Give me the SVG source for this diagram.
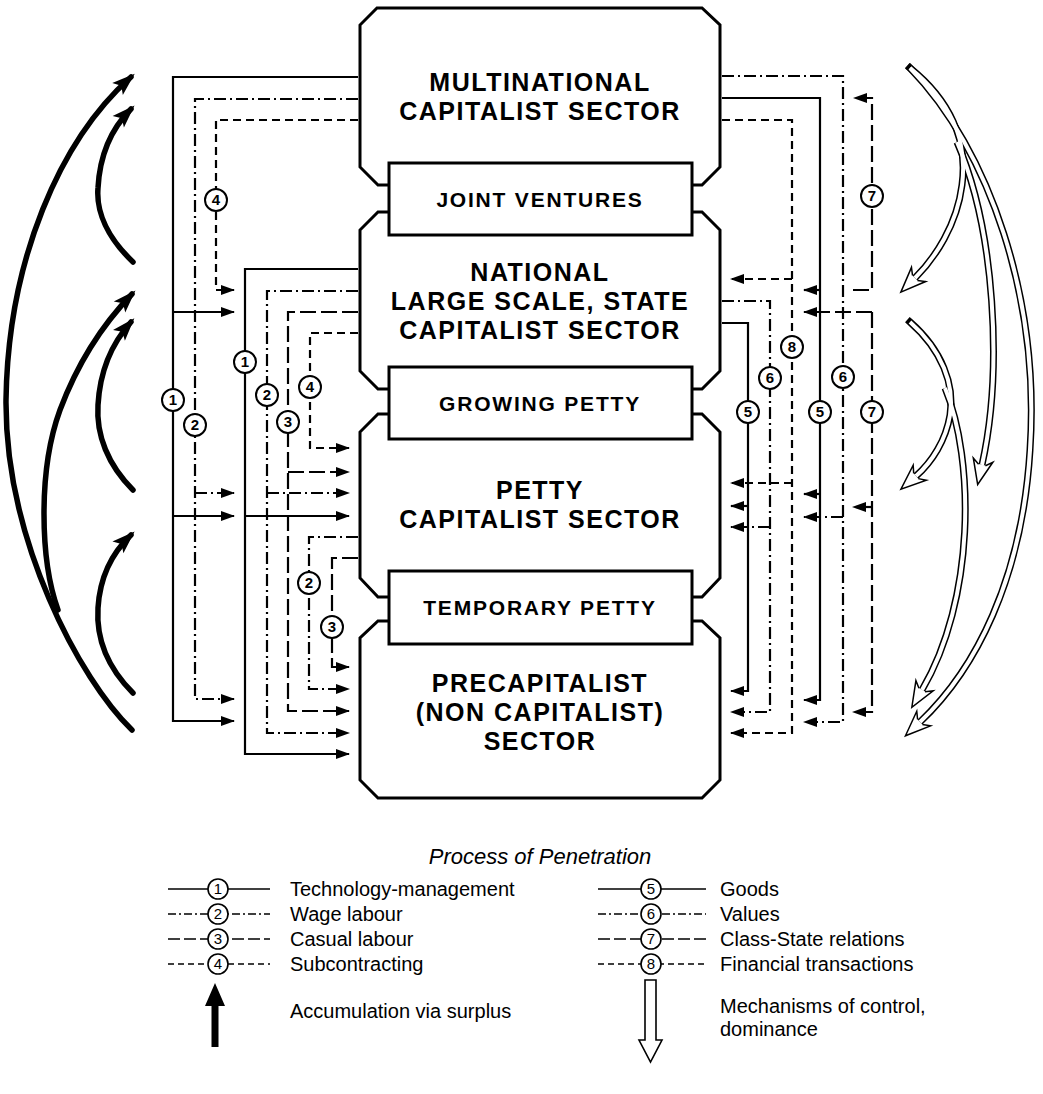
<svg xmlns="http://www.w3.org/2000/svg" width="1043" height="1094" viewBox="0 0 1043 1094">
<defs>
<style>
.box{fill:#fff;stroke:#000;stroke-width:3}
.lbl{font-family:"Liberation Sans",Arial,sans-serif;font-weight:bold;font-size:25px;letter-spacing:1.5px;text-anchor:middle}
.sub{font-size:21px;letter-spacing:1.8px}
.ln{fill:none;stroke:#000;stroke-width:2.2}
.dd{stroke-dasharray:12 4 2 4}
.ld{stroke-dasharray:16 5}
.sd{stroke-dasharray:8 5}
.ar{marker-end:url(#ah)}
.c circle{fill:#fff;stroke:#000;stroke-width:2}
.c text{font-family:"Liberation Sans",Arial,sans-serif;font-weight:bold;font-size:15px;text-anchor:middle}
.bk{fill:none;stroke:#000;stroke-width:5.5;stroke-linecap:round;marker-end:url(#th)}
.ho{fill:none;stroke:#000;stroke-width:7;stroke-linecap:square}
.hb{fill:none;stroke:#000;stroke-width:7}
.hi{fill:none;stroke:#fff;stroke-width:4;marker-end:url(#hh)}
.lg{font-family:"Liberation Sans",Arial,sans-serif;font-size:20px}
.ttl{font-family:"Liberation Sans",Arial,sans-serif;font-size:22px;font-style:italic;text-anchor:middle}
.lgl{fill:none;stroke:#000;stroke-width:1.6}
.lc circle{fill:#fff;stroke:#000;stroke-width:1.6}
.lc text{font-family:"Liberation Sans",Arial,sans-serif;font-size:15px;text-anchor:middle}
</style>
<marker id="ah" markerUnits="userSpaceOnUse" viewBox="-14 -6 16 12" markerWidth="16" markerHeight="12" refX="0" refY="0" orient="auto"><path d="M-13,-5 L1,0 L-13,5 Z" fill="#000"/></marker>
<marker id="th" markerUnits="userSpaceOnUse" viewBox="-20 -10 26 20" markerWidth="26" markerHeight="20" refX="0" refY="0" orient="auto"><path d="M-18,-8 L5,0 L-18,8 L-13,0 Z" fill="#000"/></marker>
<marker id="hh" markerUnits="userSpaceOnUse" viewBox="-8 -13 32 26" markerWidth="32" markerHeight="26" refX="0" refY="0" orient="auto"><polyline points="0,-3.5 -5,-10 20,0 -5,10 0,3.5" fill="#fff" stroke="#000" stroke-width="1.5" stroke-linejoin="miter"/></marker>
</defs>
<rect width="1043" height="1094" fill="#fff"/>

<g id="connectors">
<path class="ln ar" d="M358,77 H173 V721 H234"/>
<path class="ln ar" d="M173,312 H234"/>
<path class="ln ar" d="M173,516 H234"/>
<path class="ln dd ar" d="M358,99 H195 V699 H234"/>
<path class="ln dd ar" d="M195,493 H234"/>
<path class="ln sd ar" d="M358,120 H216 V290 H234"/>
<path class="ln ar" d="M358,269 H245 V754 H349"/>
<path class="ln ar" d="M245,516 H349"/>
<path class="ln dd ar" d="M358,291 H267 V733 H349"/>
<path class="ln dd ar" d="M267,493 H349"/>
<path class="ln ld ar" d="M358,312 H288 V711 H349"/>
<path class="ln ld ar" d="M288,472 H349"/>
<path class="ln sd ar" d="M358,333 H310 V448 H349"/>
<path class="ln dd ar" d="M358,537 H309 V689 H349"/>
<path class="ln ld ar" d="M358,558 H332 V667 H349"/>
<path class="ln ar" d="M722,98 H820 V700 H804"/>
<path class="ln ar" d="M820,290 H804"/>
<path class="ln ar" d="M820,494 H804"/>
<path class="ln dd ar" d="M722,76 H843 V722 H804"/>
<path class="ln dd ar" d="M843,517 H804"/>
<path class="ln sd ar" d="M722,120 H792 V733 H731"/>
<path class="ln sd ar" d="M792,279 H731"/>
<path class="ln sd ar" d="M792,483 H731"/>
<path class="ln ld ar" d="M853,290 H872 V98 H854"/>
<path class="ln ld ar" d="M872,312 H804"/>
<path class="ln ld ar" d="M872,312 V712 H853"/>
<path class="ln ld ar" d="M872,507 H853"/>
<path class="ln ar" d="M722,323 H748 V691 H731"/>
<path class="ln ar" d="M748,506 H731"/>
<path class="ln dd ar" d="M722,301 H770 V712 H731"/>
<path class="ln dd ar" d="M770,527 H731"/>
<g class="c" transform="translate(173,400)"><circle r="11"/><text y="5">1</text></g>
<g class="c" transform="translate(195,425)"><circle r="11"/><text y="5">2</text></g>
<g class="c" transform="translate(216,200)"><circle r="11"/><text y="5">4</text></g>
<g class="c" transform="translate(245,362)"><circle r="11"/><text y="5">1</text></g>
<g class="c" transform="translate(267,395)"><circle r="11"/><text y="5">2</text></g>
<g class="c" transform="translate(288,422)"><circle r="11"/><text y="5">3</text></g>
<g class="c" transform="translate(310,387)"><circle r="11"/><text y="5">4</text></g>
<g class="c" transform="translate(309,583)"><circle r="11"/><text y="5">2</text></g>
<g class="c" transform="translate(332,627)"><circle r="11"/><text y="5">3</text></g>
<g class="c" transform="translate(872,196)"><circle r="11"/><text y="5">7</text></g>
<g class="c" transform="translate(792,347)"><circle r="11"/><text y="5">8</text></g>
<g class="c" transform="translate(770,378)"><circle r="11"/><text y="5">6</text></g>
<g class="c" transform="translate(748,412)"><circle r="11"/><text y="5">5</text></g>
<g class="c" transform="translate(820,412)"><circle r="11"/><text y="5">5</text></g>
<g class="c" transform="translate(843,377)"><circle r="11"/><text y="5">6</text></g>
<g class="c" transform="translate(872,412)"><circle r="11"/><text y="5">7</text></g>
</g>

<g id="node-multinational">
<path class="box" d="M377,8 H702 L720,25 V167 L702,185 H378 L360,167 V25 Z"/>
<text class="lbl" x="540" y="91">MULTINATIONAL</text>
<text class="lbl" x="540" y="120">CAPITALIST SECTOR</text>
</g>
<g id="node-national">
<path class="box" d="M378,212 H702 L720,230 V371 L702,389 H378 L360,371 V230 Z"/>
<text class="lbl" x="540" y="281">NATIONAL</text>
<text class="lbl" x="540" y="310">LARGE SCALE, STATE</text>
<text class="lbl" x="540" y="339">CAPITALIST SECTOR</text>
</g>
<g id="node-joint-ventures">
<rect class="box" x="389" y="163" width="303" height="72"/>
<text class="lbl sub" x="540" y="207">JOINT VENTURES</text>
</g>
<g id="node-petty">
<path class="box" d="M378,414 H702 L720,432 V578 L702,597 H378 L360,578 V432 Z"/>
<text class="lbl" x="540" y="499">PETTY</text>
<text class="lbl" x="540" y="528">CAPITALIST SECTOR</text>
</g>
<g id="node-growing-petty">
<rect class="box" x="389" y="367" width="303" height="72"/>
<text class="lbl sub" x="540" y="411">GROWING PETTY</text>
</g>
<g id="node-precapitalist">
<path class="box" d="M378,621 H702 L720,638 V780 L702,798 H378 L360,780 V638 Z"/>
<text class="lbl" x="540" y="692">PRECAPITALIST</text>
<text class="lbl" x="540" y="721">(NON CAPITALIST)</text>
<text class="lbl" x="540" y="750">SECTOR</text>
</g>
<g id="node-temporary-petty">
<rect class="box" x="389" y="571" width="303" height="73"/>
<text class="lbl sub" x="540" y="615">TEMPORARY PETTY</text>
</g>

<g id="accumulation-arrows">
<path class="bk" d="M132,730 C80,680 5,540 6,400 C8,260 60,140 131,77"/>
<path class="bk" d="M133,262 C108,238 96,212 98,188 C100,150 115,125 131,109"/>
<path class="bk" d="M58,610 C40,560 38,470 60,410 C78,362 105,322 132,294"/>
<path class="bk" d="M133,490 C108,465 96,435 98,405 C100,370 113,342 131,322"/>
<path class="bk" d="M133,693 C108,668 96,640 98,608 C100,575 113,552 131,535"/>
</g>

<g id="control-arrows">
<path class="ho" d="M910,68 C950,100 968,140 962,185 C957,225 935,258 915,278"/>
<path class="ho" d="M910,68 C990,150 1040,300 1030,450 C1022,580 975,670 920,722"/>
<path class="hb" d="M957,142 C995,230 1003,370 982,465"/>
<path class="ho" d="M910,322 C942,350 955,385 950,415 C946,440 932,462 916,476"/>
<path class="hb" d="M945,388 C975,460 975,600 922,690"/>
<path class="hi" d="M910,68 C950,100 968,140 962,185 C957,225 935,258 915,278"/>
<path class="hi" d="M910,68 C990,150 1040,300 1030,450 C1022,580 975,670 920,722"/>
<path class="hi" d="M957,142 C995,230 1003,370 982,465"/>
<path class="hi" d="M910,322 C942,350 955,385 950,415 C946,440 932,462 916,476"/>
<path class="hi" d="M945,388 C975,460 975,600 922,690"/>
</g>

<g id="legend">
<text class="ttl" x="540" y="864">Process of Penetration</text>
<line class="lgl" x1="168" y1="889" x2="270" y2="889"/>
<line class="lgl" x1="168" y1="914" x2="270" y2="914" stroke-dasharray="8 3 2 3"/>
<line class="lgl" x1="168" y1="939" x2="270" y2="939" stroke-dasharray="12 4"/>
<line class="lgl" x1="168" y1="964" x2="270" y2="964" stroke-dasharray="6 4"/>
<g class="lc" transform="translate(218,889)"><circle r="10"/><text y="5">1</text></g>
<g class="lc" transform="translate(218,914)"><circle r="10"/><text y="5">2</text></g>
<g class="lc" transform="translate(218,939)"><circle r="10"/><text y="5">3</text></g>
<g class="lc" transform="translate(218,964)"><circle r="10"/><text y="5">4</text></g>
<text class="lg" x="290" y="896">Technology-management</text>
<text class="lg" x="290" y="921">Wage labour</text>
<text class="lg" x="290" y="946">Casual labour</text>
<text class="lg" x="290" y="971">Subcontracting</text>
<line class="lgl" x1="598" y1="889" x2="706" y2="889"/>
<line class="lgl" x1="598" y1="914" x2="706" y2="914" stroke-dasharray="8 3 2 3"/>
<line class="lgl" x1="598" y1="939" x2="706" y2="939" stroke-dasharray="12 4"/>
<line class="lgl" x1="598" y1="964" x2="706" y2="964" stroke-dasharray="6 4"/>
<g class="lc" transform="translate(651,889)"><circle r="10"/><text y="5">5</text></g>
<g class="lc" transform="translate(651,914)"><circle r="10"/><text y="5">6</text></g>
<g class="lc" transform="translate(651,939)"><circle r="10"/><text y="5">7</text></g>
<g class="lc" transform="translate(651,964)"><circle r="10"/><text y="5">8</text></g>
<text class="lg" x="720" y="896">Goods</text>
<text class="lg" x="720" y="921">Values</text>
<text class="lg" x="720" y="946">Class-State relations</text>
<text class="lg" x="720" y="971">Financial transactions</text>
<path d="M211.5,1047 V1006 H205 L215,983 L225,1006 H218.5 V1047 Z" fill="#000"/>
<text class="lg" x="290" y="1018">Accumulation via surplus</text>
<path d="M645,980 H656 V1040 H662 L650.5,1062 L639,1040 H645 Z" fill="#fff" stroke="#000" stroke-width="1.6"/>
<text class="lg" x="720" y="1013">Mechanisms of control,</text>
<text class="lg" x="720" y="1036">dominance</text>
</g>
</svg>
